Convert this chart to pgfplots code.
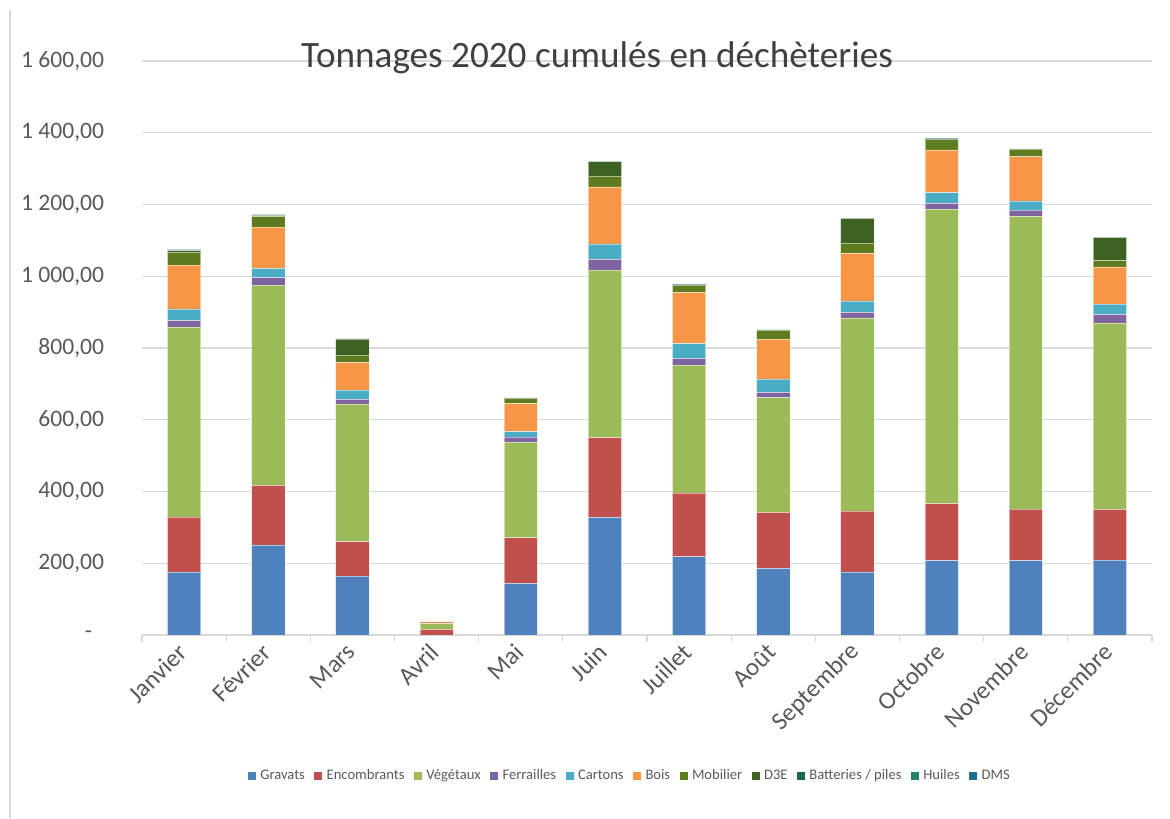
\documentclass[border=0pt]{standalone}
\usepackage{fontspec}
\setmainfont{Carlito}
\usepackage{pgfplots}
\usepackage{pgfplotstable}
\pgfplotsset{compat=1.18}
\definecolor{cGrav}{HTML}{4F81BD}
\definecolor{cEnc}{HTML}{C0504D}
\definecolor{cVeg}{HTML}{9BBB59}
\definecolor{cFer}{HTML}{8064A2}
\definecolor{cCar}{HTML}{4BACC6}
\definecolor{cBois}{HTML}{F79646}
\definecolor{cMob}{HTML}{5E7B1F}
\definecolor{cD3E}{HTML}{3C6323}
\definecolor{cBat}{HTML}{1F6A45}
\definecolor{cHui}{HTML}{267F6C}
\definecolor{cDMS}{HTML}{256F8E}
\definecolor{cGrid}{HTML}{D9D9D9}
\definecolor{cTxt}{HTML}{595959}
\definecolor{cTitle}{HTML}{404040}

\pgfplotstableread{
x Gravats Enc Veg Ferr Cart Bois Mob D3E Batt Huil DMS
0 175 154 530 17 32 123 37 3 2 0 2
1 251 166 558 21 26 115 30 3 2 0 1
2 164 96 384 13 26 76 21 45 0 0 1
3 0 16 16 1 1 3 0 0 0 0 0
4 144 127 267 14 15 78 15 0 0 0 1
5 328 222 467 30 43 159 30 40 0 0 2
6 218 178 356 19 41 142 22 0 0 0 2
7 186 156 320 14 37 112 25 0 0 0 1
8 176 170 538 15 32 133 28 69 0 0 1
9 207 159 821 16 30 119 31 0 0 0 2
10 207 144 816 17 26 123 21 0 0 0 1
11 209 141 520 24 28 104 18 64 0 0 1
}\data

\begin{document}
\begin{tikzpicture}
\useasboundingbox (0,0) rectangle (585pt,409pt);
\draw[line width=0.6pt, cGrid] (5pt,0) -- (5pt,404pt);
\begin{axis}[
  at={(71pt,91.5pt)}, anchor=south west,
  scale only axis, width=505pt, height=287pt,
  ybar stacked, bar width=16.7pt,
  xmin=-0.5, xmax=11.5, ymin=0, ymax=1600,
  axis lines*=left,
  x axis line style={draw=cGrid, line width=0.6pt},
  y axis line style={draw=none},
  xtick={0,...,11},
  xticklabels={Janvier,Février,Mars,Avril,Mai,Juin,Juillet,Août,Septembre,Octobre,Novembre,Décembre},
  minor xtick={-0.5,0.5,...,11.5},
  tick align=outside,
  major x tick style={draw=none},
  minor x tick style={draw=cGrid, line width=0.6pt},
  minor tick length=3.5pt,
  ytick={0,200,...,1600},
  yticklabels={{-\hphantom{0}},{200,00},{400,00},{600,00},{800,00},{1~000,00},{1~200,00},{1~400,00},{1~600,00}},
  ytick style={draw=none},
  ymajorgrids, grid style={draw=cGrid, line width=0.6pt},
  yticklabel style={anchor=east, inner sep=0pt, xshift=-14.5pt, text=cTxt, font=\fontsize{11.8}{13}\selectfont},
  xticklabel style={rotate=45, anchor=east, inner sep=0pt, yshift=-1pt, xshift=-2pt, text=cTxt, font=\fontsize{12.5}{14}\selectfont},
  title={Tonnages 2020 cumulés en déchèteries},
  title style={at={(0.4505,0.985)}, anchor=center, inner sep=0pt, text=cTitle, font=\fontsize{18.6}{21}\selectfont},
  every axis plot/.append style={draw=white, draw opacity=0.5, line width=0.3pt},
  legend style={at={(0.4827,-0.2456)}, anchor=center, draw=none, fill=none,
    font=\fontsize{7.3}{8}\selectfont, text=cTxt,
    nodes={inner sep=0.6pt},
    /tikz/every odd column/.append style={column sep=1.5pt},
    /tikz/every even column/.append style={column sep=4.2pt}},
  legend columns=-1,
  legend image code/.code={\fill[#1, draw=none] (0pt,-2pt) rectangle (4pt,2pt);},
]
\addplot[fill=cGrav] table[x=x,y=Gravats]{\data};
\addplot[fill=cEnc] table[x=x,y=Enc]{\data};
\addplot[fill=cVeg] table[x=x,y=Veg]{\data};
\addplot[fill=cFer] table[x=x,y=Ferr]{\data};
\addplot[fill=cCar] table[x=x,y=Cart]{\data};
\addplot[fill=cBois] table[x=x,y=Bois]{\data};
\addplot[fill=cMob] table[x=x,y=Mob]{\data};
\addplot[fill=cD3E] table[x=x,y=D3E]{\data};
\addplot[fill=cBat] table[x=x,y=Batt]{\data};
\addplot[fill=cHui] table[x=x,y=Huil]{\data};
\addplot[fill=cDMS] table[x=x,y=DMS]{\data};
\legend{Gravats,Encombrants,Végétaux,Ferrailles,Cartons,Bois,Mobilier,D3E,Batteries / piles,Huiles,DMS}
\end{axis}
\end{tikzpicture}
\end{document}
